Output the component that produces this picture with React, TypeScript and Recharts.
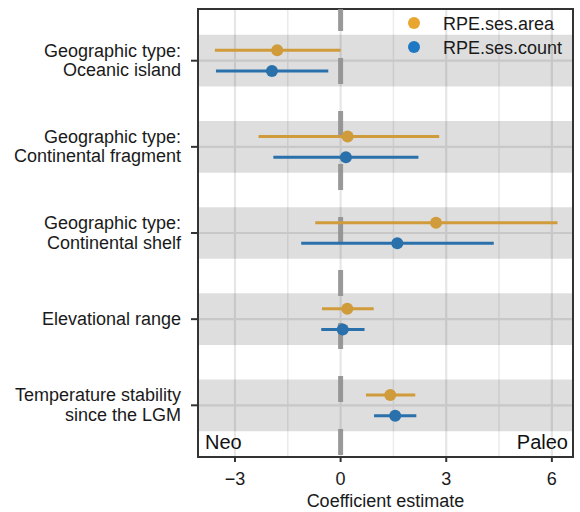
import React from "react";
import {
  ComposedChart,
  Scatter,
  XAxis,
  YAxis,
  CartesianGrid,
  ReferenceArea,
  ReferenceLine,
} from "recharts";

// ---- data ----
const categoryLines: string[][] = [
  ["Geographic type:", "Oceanic island"],
  ["Geographic type:", "Continental fragment"],
  ["Geographic type:", "Continental shelf"],
  ["Elevational range"],
  ["Temperature stability", "since the LGM"],
];
const areaEst = [-1.8, 0.2, 2.71, 0.19, 1.41];
const areaLo = [-3.57, -2.33, -0.72, -0.53, 0.72];
const areaHi = [0.0, 2.8, 6.16, 0.94, 2.12];
const countEst = [-1.95, 0.15, 1.61, 0.06, 1.55];
const countLo = [-3.54, -1.91, -1.12, -0.55, 0.95];
const countHi = [-0.35, 2.21, 4.35, 0.68, 2.15];
const seriesNames = ["RPE.ses.area", "RPE.ses.count"];
const xTicks = [-3, 0, 3, 6];
const xMajor = [-3, 0, 3, 6];
const xMinor = [-1.5, 1.5, 4.5];
const sideLabels = ["Neo", "Paleo"];

// ---- styling ----
const FONT = "'Liberation Sans', Arial, Helvetica, sans-serif";
const areaColor = "#D09B3A";
const countColor = "#2A71AC";
const legendColors = ["#E8A630", "#1F78C4"];
const X_DOMAIN: [number, number] = [-4.05, 6.6];
const Y_DOMAIN: [number, number] = [0.4, 5.6];
const DODGE = 0.12;
const BAND = 0.3;

const n = categoryLines.length;
const pos = categoryLines.map((_, i) => n - i);

const areaData = areaEst.map((v, i) => ({ x: v, y: pos[i] + DODGE }));
const countData = countEst.map((v, i) => ({ x: v, y: pos[i] - DODGE }));

const YTick = (props: any) => {
  const { x, y, payload } = props;
  const idx = n - payload.value;
  const lines = categoryLines[idx] || [];
  const base = lines.length === 1 ? 6 : -4;
  return (
    <g>
      {lines.map((l, k) => (
        <text
          key={k}
          x={x - 8}
          y={y + base + k * 19.5}
          textAnchor="end"
          fontFamily={FONT}
          fontSize={18}
          fill="#1a1a1a"
        >
          {l}
        </text>
      ))}
    </g>
  );
};

const dot = (color: string) => (p: any) =>
  <circle cx={p.cx} cy={p.cy} r={6} fill={color} />;

export default function App() {
  return (
    <div style={{ position: "absolute", left: 0, top: 0, width: 580, height: 512, background: "#fff" }}>
      <ComposedChart
        width={580}
        height={512}
        margin={{ top: 9, right: 7, left: 0, bottom: 0 }}
        style={{ fontFamily: FONT }}
      >
        <CartesianGrid
          horizontal={false}
          verticalValues={xMinor}
          stroke="#ebebeb"
          strokeWidth={1.5}
        />
        <CartesianGrid
          verticalValues={xMajor}
          horizontalValues={pos}
          stroke="#e6e6e6"
          strokeWidth={2.2}
        />
        <XAxis
          type="number"
          dataKey="x"
          domain={X_DOMAIN}
          ticks={xTicks}
          allowDataOverflow
          height={55}
          axisLine={false}
          tickLine={{ stroke: "#333", strokeWidth: 2 }}
          tickSize={5}
          tickMargin={10}
          tickFormatter={(v: number) => String(v).replace("-", "\u2212")}
          tick={{ fill: "#1a1a1a", fontSize: 18, fontFamily: FONT }}
          label={{
            value: "Coefficient estimate",
            position: "insideBottom",
            offset: 5,
            fill: "#1a1a1a",
            fontSize: 18,
            fontFamily: FONT,
          }}
        />
        <YAxis
          type="number"
          dataKey="y"
          domain={Y_DOMAIN}
          ticks={pos}
          allowDataOverflow
          width={198}
          axisLine={false}
          tickLine={{ stroke: "#333", strokeWidth: 2 }}
          tickSize={7}
          tick={<YTick />}
        />
        {pos.map((p) => (
          <ReferenceArea
            key={"band" + p}
            y1={p - BAND}
            y2={p + BAND}
            x1={X_DOMAIN[0]}
            x2={X_DOMAIN[1]}
            fill="#000"
            fillOpacity={0.13}
            stroke="none"
            ifOverflow="visible"
          />
        ))}
        <ReferenceLine
          x={0}
          stroke="#8f8f8f"
          strokeOpacity={0.9}
          strokeWidth={5}
          strokeDasharray="26 27"
          strokeDashoffset={-2}
        />
        {pos.map((p, i) => (
          <ReferenceLine
            key={"ea" + i}
            segment={[
              { x: areaLo[i], y: p + DODGE },
              { x: areaHi[i], y: p + DODGE },
            ]}
            stroke={areaColor}
            strokeWidth={3}
            ifOverflow="visible"
          />
        ))}
        {pos.map((p, i) => (
          <ReferenceLine
            key={"ec" + i}
            segment={[
              { x: countLo[i], y: p - DODGE },
              { x: countHi[i], y: p - DODGE },
            ]}
            stroke={countColor}
            strokeWidth={3}
            ifOverflow="visible"
          />
        ))}
        <Scatter
          name={seriesNames[0]}
          data={areaData}
          fill={areaColor}
          shape={dot(areaColor)}
          isAnimationActive={false}
        />
        <Scatter
          name={seriesNames[1]}
          data={countData}
          fill={countColor}
          shape={dot(countColor)}
          isAnimationActive={false}
        />
        <ReferenceArea
          x1={X_DOMAIN[0]}
          x2={X_DOMAIN[1]}
          y1={Y_DOMAIN[0]}
          y2={Y_DOMAIN[1]}
          fill="none"
          stroke="#333"
          strokeWidth={2}
          ifOverflow="visible"
        />
      </ComposedChart>
      <svg
        width={580}
        height={512}
        style={{ position: "absolute", left: 0, top: 0, pointerEvents: "none" }}
      >
        {seriesNames.map((s, i) => (
          <g key={s}>
            <circle cx={414} cy={23 + i * 24} r={6} fill={legendColors[i]} />
            <text
              x={443}
              y={23 + i * 24 + 6.5}
              fontFamily={FONT}
              fontSize={18}
              fill="#1a1a1a"
            >
              {s}
            </text>
          </g>
        ))}
        <text x={205} y={449} fontFamily={FONT} fontSize={20} fill="#111">
          {sideLabels[0]}
        </text>
        <text x={568} y={449} textAnchor="end" fontFamily={FONT} fontSize={20} fill="#111">
          {sideLabels[1]}
        </text>
      </svg>
    </div>
  );
}
